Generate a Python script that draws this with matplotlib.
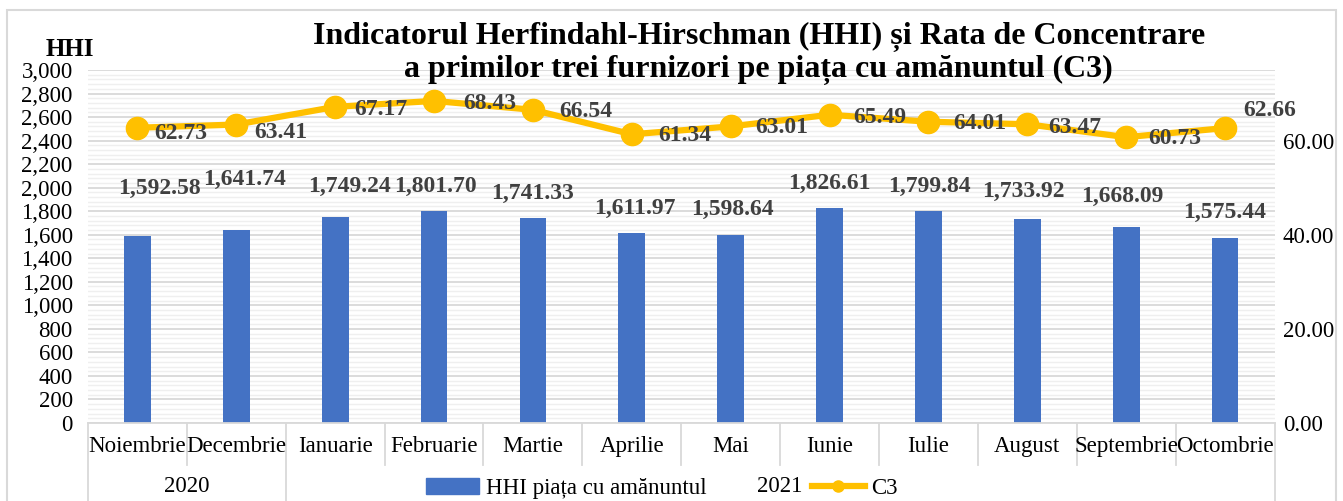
import matplotlib.pyplot as plt
import matplotlib.transforms as mtransforms
from matplotlib.lines import Line2D
from matplotlib.patches import Patch
from matplotlib.ticker import MultipleLocator, StrMethodFormatter

plt.rcParams['font.family'] = ['Liberation Serif', 'DejaVu Serif']

months = ['Noiembrie', 'Decembrie', 'Ianuarie', 'Februarie', 'Martie', 'Aprilie',
          'Mai', 'Iunie', 'Iulie', 'August', 'Septembrie', 'Octombrie']
years = ['2020', '2021']
year_span = [2, 10]  # number of months per year
hhi = [1592.58, 1641.74, 1749.24, 1801.70, 1741.33, 1611.97,
       1598.64, 1826.61, 1799.84, 1733.92, 1668.09, 1575.44]
c3 = [62.73, 63.41, 67.17, 68.43, 66.54, 61.34,
      63.01, 65.49, 64.01, 63.47, 60.73, 62.66]

# label nudges (points) to follow the hand-placed labels of the original
hhi_dx = [16, 6, 10, 1, 0, 2, 1, 0, 1, -3, -3, 0]
hhi_dy = [34, 36, 22, 18, 18, 18, 18, 18, 18, 20, 22, 18]
c3_dx = [31, 32, 33, 40, 38, 38, 37, 36, 37, 34, 35, 32]
c3_dy = [-4, -6, -2, -2, -1, -1, -1, -2, -1, -2, -1, 13]

bar_col = '#4472C4'
line_col = '#FFC000'
lab_col = '#404040'
grid_col = '#D9D9D9'
fs = 16.5

fig = plt.figure(figsize=(13.43, 5.01), dpi=100)
ax = fig.add_axes([0.0655, 0.1557, 0.8835, 0.7046])
x = list(range(len(months)))

ax.bar(x, hhi, width=0.27, color=bar_col, zorder=2)
ax.set_xlim(-0.5, len(months) - 0.5)
ax.set_ylim(0, 3000)
ax.yaxis.set_major_locator(MultipleLocator(200))
ax.yaxis.set_minor_locator(MultipleLocator(40))
ax.yaxis.set_major_formatter(StrMethodFormatter('{x:,.0f}'))
ax.grid(axis='y', which='major', color=grid_col, lw=1.3, zorder=0)
ax.grid(axis='y', which='minor', color='#EFEFEF', lw=1.0, zorder=0)
ax.set_xticks([])
for s in ['top', 'right', 'left']:
    ax.spines[s].set_visible(False)
ax.spines['bottom'].set_color(grid_col)
ax.spines['bottom'].set_linewidth(1.3)
ax.tick_params(axis='y', which='both', length=0, labelsize=fs, pad=11)
ax.set_axisbelow(True)

for i, v in enumerate(hhi):
    ax.annotate(f'{v:,.2f}', (i, v), xytext=(hhi_dx[i], hhi_dy[i]),
                textcoords='offset points', ha='center', va='center',
                fontsize=17, fontweight='bold', color=lab_col, zorder=5)

ax.text(-0.015, 1.057, 'HHI', transform=ax.transAxes, fontsize=18,
        fontweight='bold', ha='center', va='center')

# category axis: month row and year row with separators
tr = mtransforms.blended_transform_factory(ax.transData, ax.transAxes)
for i, m in enumerate(months):
    ax.text(i, -0.068, m, transform=tr, ha='center', va='center', fontsize=fs)
bounds = [-0.5]
for n in year_span:
    bounds.append(bounds[-1] + n)
for k in range(len(months) + 1):
    b = k - 0.5
    y_end = -0.23 if b in bounds else -0.119
    ax.plot([b, b], [0, y_end], transform=tr, color=grid_col, lw=1.3, clip_on=False)
for k, yr in enumerate(years):
    ax.text((bounds[k] + bounds[k + 1]) / 2, -0.181, yr, transform=tr,
            ha='center', va='center', fontsize=fs)

ax2 = ax.twinx()
ax2.plot(x, c3, color=line_col, lw=4.5, marker='o', markersize=16, zorder=4)
ax2.set_ylim(0, 75)
ax2.set_yticks([0, 20, 40, 60])
ax2.yaxis.set_major_formatter(StrMethodFormatter('{x:.2f}'))
ax2.tick_params(axis='y', length=0, labelsize=fs, pad=6)
for s in ax2.spines.values():
    s.set_visible(False)
for i, v in enumerate(c3):
    ax2.annotate(f'{v:.2f}', (i, v), xytext=(c3_dx[i], c3_dy[i]),
                 textcoords='offset points', ha='center', va='center',
                 fontsize=17, fontweight='bold', color=lab_col, zorder=6)

fig.text(0.565, 0.893, 'Indicatorul Herfindahl-Hirschman (HHI) și Rata de Concentrare\n'
         'a primilor trei furnizori pe piața cu amănuntul (C3)',
         ha='center', va='center', fontsize=23, fontweight='bold', linespacing=1.15)

handles = [Patch(color=bar_col, label='HHI piața cu amănuntul'),
           Line2D([], [], color=line_col, lw=4.5, marker='o', markersize=8, label='C3')]
fig.legend(handles=handles, loc='center', bbox_to_anchor=(0.493, 0.025), ncol=2,
           frameon=False, fontsize=fs, columnspacing=4.6, handlelength=2.3,
           handletextpad=0.3)

fig.patches.append(plt.Rectangle((0.005, -0.01), 0.99, 0.99, transform=fig.transFigure,
                                 fill=False, edgecolor=grid_col, lw=1.5))

fig.savefig('out.png', dpi=100)
